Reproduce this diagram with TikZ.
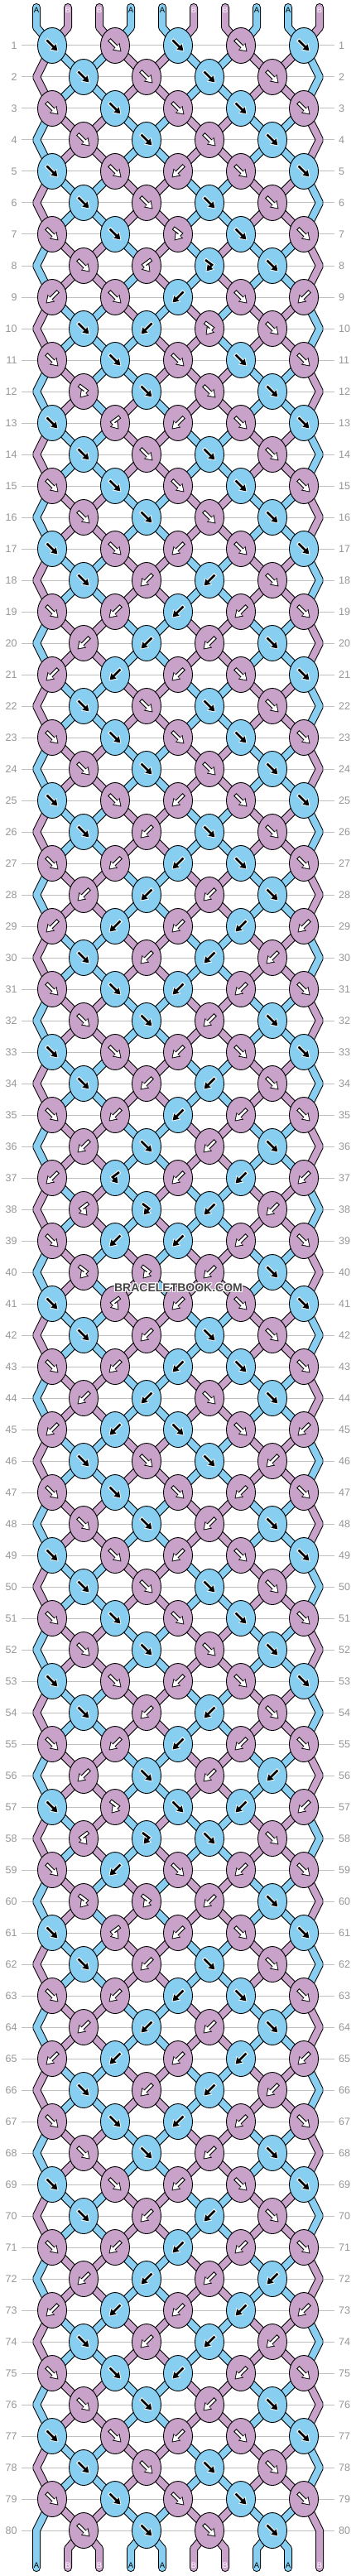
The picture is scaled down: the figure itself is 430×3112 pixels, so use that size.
\documentclass[tikz,border=0pt]{standalone}
\usepackage{fontspec}
\setmainfont{Liberation Sans}
\usetikzlibrary{shapes.geometric,arrows.meta}
\definecolor{cA}{RGB}{135,206,240}
\definecolor{cB}{RGB}{200,162,200}
\definecolor{rowgray}{RGB}{192,192,192}
\definecolor{numgray}{RGB}{150,150,150}
\definecolor{wmgray}{RGB}{70,70,70}
\pgfdeclarelayer{gridl}
\pgfdeclarelayer{outl}
\pgfdeclarelayer{fil}
\pgfsetlayers{gridl,outl,fil,main}
\tikzset{
  knot/.style={ellipse,draw=black,line width=0.9pt,minimum width=35pt,minimum height=43pt,inner sep=0pt},
  rowlbl/.style={text=numgray,font=\fontsize{12.5}{14}\selectfont,inner sep=0pt},
  endlbl/.style={font=\fontsize{9.5}{10}\selectfont,inner sep=0pt},
  wm/.style={font=\bfseries\fontsize{14}{14}\selectfont,inner sep=0pt},
  strout/.style={line width=10pt,draw=black,line join=bevel,line cap=round},
  strin/.style={line width=8pt,line join=bevel,line cap=round},
  arrout/.style={line width=4.8pt,line join=miter,-{Triangle[length=9pt,width=11.5pt]},shorten >=-1.4pt,shorten <=-1pt},
  arrin/.style={line width=2.7pt,line join=miter,-{Triangle[length=7pt,width=8.4pt]}},
}
\gdef\outlist{}
\gdef\collist{}
\newcommand\strseg[2]{%
  \xdef\outlist{\unexpanded\expandafter{\outlist}\noexpand\draw[strout] #1;}%
  \xdef\collist{\unexpanded\expandafter{\collist}\noexpand\draw[strin,draw=#2] #1;}}
\newcommand\kicon[4]{%
  \ifcase#3\relax
  \or\def\ipath{(-6.5,-6.5) -- (6.5,6.5)}%
  \or\def\ipath{(6.5,-6.5) -- (-6.5,6.5)}%
  \or\def\ipath{(-5,-7) -- (3,-1) -- (-3.5,6.5)}%
  \or\def\ipath{(5,-7) -- (-3,-1) -- (3.5,6.5)}%
  \fi
  \if A#4\def\oc{white}\def\ic{black}\else\def\oc{black}\def\ic{white}\fi
  \begin{scope}[shift={(#1,#2)}]
  \edef\tmp{\noexpand\draw[arrout,draw=\oc] \ipath;}\tmp
  \edef\tmp{\noexpand\draw[arrin,draw=\ic] \ipath;}\tmp
  \end{scope}}
\newcommand\dorow[2]{%
  \pgfmathsetmacro\yy{55+38*(#1-1)}%
  \ifodd#1\relax\def\off{0}\else\def\off{1}%
    \coordinate (eL#1) at (44,\yy);%
    \coordinate (eR#1) at (386,\yy);%
    \expandafter\xdef\csname n1\endcsname{\csname n1\endcsname -- (eL#1)}%
    \expandafter\xdef\csname n10\endcsname{\csname n10\endcsname -- (eR#1)}%
  \fi
  \foreach \kt [count=\kk] in {#2}{%
    \pgfmathtruncatemacro\pp{2*\kk-1+\off}%
    \pgfmathtruncatemacro\qq{\pp+1}%
    \pgfmathsetmacro\xx{63+38*(\pp-1)}%
    \edef\Lc{\csname s\pp\endcsname}\edef\Rc{\csname s\qq\endcsname}%
    \ifcase\kt\relax
    \or\edef\kc{\Lc}\expandafter\xdef\csname s\pp\endcsname{\Rc}\expandafter\xdef\csname s\qq\endcsname{\Lc}%
    \or\edef\kc{\Rc}\expandafter\xdef\csname s\pp\endcsname{\Rc}\expandafter\xdef\csname s\qq\endcsname{\Lc}%
    \or\edef\kc{\Lc}%
    \or\edef\kc{\Rc}%
    \fi
    \edef\tmp{\noexpand\node[knot,fill=c\kc] (k#1-\kk) at (\xx,\yy) {};}\tmp
    \edef\tmp{\noexpand\strseg{\csname n\pp\endcsname -- (k#1-\kk.center)}{c\Lc}}\tmp
    \edef\tmp{\noexpand\strseg{\csname n\qq\endcsname -- (k#1-\kk.center)}{c\Rc}}\tmp
    \expandafter\xdef\csname n\pp\endcsname{(k#1-\kk.center)}%
    \expandafter\xdef\csname n\qq\endcsname{(k#1-\kk.center)}%
    \kicon{\xx}{\yy}{\kt}{\kc}%
  }}
\begin{document}
\begin{tikzpicture}[x=1pt,y=-1pt]
\useasboundingbox (0,0) rectangle (430,3112);
\begin{pgfonlayer}{gridl}
\fill[white] (0,0) rectangle (430,3112);
\foreach \rr in {1,...,80}{%
  \pgfmathsetmacro\yy{55+38*(\rr-1)}%
  \draw[rowgray,line width=1pt] (26,\yy) -- (404,\yy);
}
\end{pgfonlayer}
\foreach \rr in {1,...,80}{%
  \pgfmathsetmacro\yy{55+38*(\rr-1)}%
  \node[rowlbl,anchor=east] (rl\rr) at (20.7,\yy) {\rr};
  \node[rowlbl,anchor=west] (rr\rr) at (409,\yy) {\rr};
}
\foreach \cc [count=\pp] in {A,B,B,A,A,B,B,A,A,B}{%
  \pgfmathsetmacro\xx{44+38*(\pp-1)}%
  \coordinate (t\pp) at (\xx,9);
  \coordinate (b\pp) at (\xx,33);
  \expandafter\xdef\csname s\pp\endcsname{\cc}%
  \expandafter\xdef\csname n\pp\endcsname{(t\pp) -- (b\pp)}%
  \if A\cc\def\tc{black}\else\def\tc{white}\fi
  \node[endlbl,text=\tc] (tl\pp) at (\xx,12.5) {\cc};
}
\foreach \ty [count=\rr] in {
{1,1,1,1,1},{1,1,1,1},{1,1,1,1,1},{1,1,1,1},{1,1,2,1,1},{1,1,1,1},{1,1,3,1,1},{1,4,3,1},{2,1,2,1,2},{1,2,3,1},
{1,1,1,1,1},{3,1,1,1},{1,4,2,1,1},{1,1,1,1},{1,1,1,1,1},{1,1,1,1},{1,1,2,1,1},{1,2,2,1},{1,2,2,2,1},{2,2,2,1},
{2,2,2,1,1},{1,1,1,1},{1,1,1,1,1},{1,1,1,1},{1,1,2,1,1},{1,2,1,1},{1,2,2,1,1},{2,2,2,1},{2,2,2,2,2},{1,2,2,2},
{1,1,2,2,1},{1,1,2,1},{1,1,2,1,1},{1,2,2,1},{1,2,2,2,1},{2,1,2,1},{2,4,2,2,2},{4,3,2,2},{1,2,2,2,1},{3,3,2,1},
{1,4,2,1,1},{1,2,1,1},{1,2,2,1,1},{2,2,1,1},{2,2,1,1,2},{1,1,1,2},{1,1,1,2,1},{1,1,2,1},{1,1,2,1,1},{1,1,1,1},
{1,1,1,1,1},{1,1,1,1},{1,1,2,1,1},{1,2,2,1},{1,2,2,2,1},{2,1,2,2},{1,3,1,2,2},{4,3,1,1},{1,2,1,2,1},{3,3,2,1},
{1,4,2,1,1},{1,2,1,1},{1,2,2,1,1},{2,2,2,1},{2,2,2,2,2},{1,2,2,2},{1,1,2,2,1},{1,1,2,1},{1,1,2,1,1},{1,2,2,1},
{1,2,2,2,1},{2,2,2,2},{2,2,2,2,2},{1,2,2,2},{1,1,2,2,1},{1,1,2,1},{1,1,2,1,1},{1,1,1,1},{1,1,1,1,1},{1,1,1,1}}{%
  \edef\tmp{\noexpand\dorow{\rr}{\ty}}\tmp
}
\foreach \pp in {1,...,10}{%
  \pgfmathsetmacro\xx{44+38*(\pp-1)}%
  \coordinate (be\pp) at (\xx,3102);
  \coordinate (bb\pp) at (\xx,3079);
  \edef\scol{\csname s\pp\endcsname}%
  \ifnum\pp=1 \edef\tmp{\noexpand\strseg{\csname n\pp\endcsname -- (be\pp)}{c\scol}}%
  \else\ifnum\pp=10 \edef\tmp{\noexpand\strseg{\csname n\pp\endcsname -- (be\pp)}{c\scol}}%
  \else\edef\tmp{\noexpand\strseg{\csname n\pp\endcsname -- (bb\pp) -- (be\pp)}{c\scol}}\fi\fi
  \tmp
  \if A\scol\def\tc{black}\else\def\tc{white}\fi
  \node[endlbl,text=\tc] (bl\pp) at (\xx,3099) {\scol};
}
\begin{pgfonlayer}{outl}\outlist\end{pgfonlayer}
\begin{pgfonlayer}{fil}\collist\end{pgfonlayer}
\foreach \dx/\dy [count=\hh] in {-1/0,1/0,0/-1,0/1,-1/-1,1/1,-1/1,1/-1}{%
  \node[wm,text=white] (wmh\hh) at (215.5+\dx,1555.5+\dy) {BRACELETBOOK.COM};
}
\node[wm,text=wmgray] (wm) at (215.5,1555.5) {BRACELETBOOK.COM};
\end{tikzpicture}
\end{document}
